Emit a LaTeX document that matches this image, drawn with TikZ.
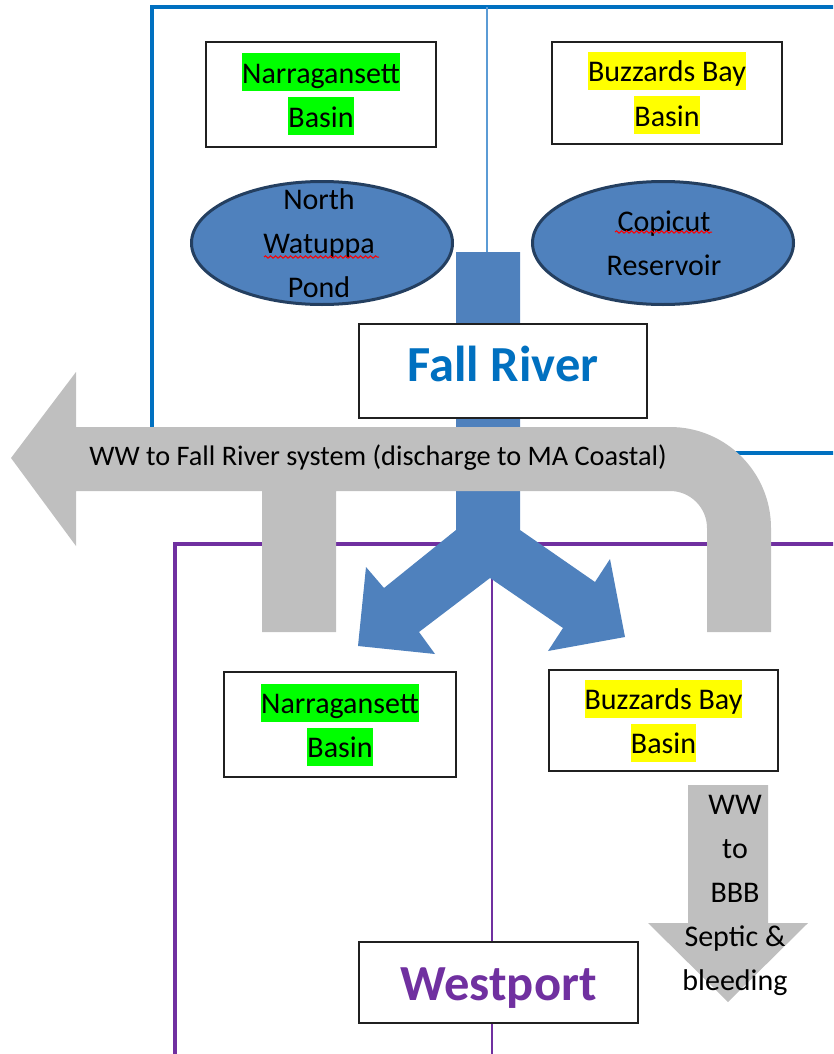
\documentclass[tikz,border=0pt]{standalone}
\usepackage{fontspec}
\setmainfont{Carlito}
\usetikzlibrary{positioning,shapes.geometric,decorations.pathmorphing}

\definecolor{frblue}{HTML}{0070C0}
\definecolor{divblue}{HTML}{5B9BD5}
\definecolor{wpurple}{HTML}{7030A0}
\definecolor{flowblue}{HTML}{4F81BD}
\definecolor{pondline}{HTML}{243F60}
\definecolor{wwgray}{HTML}{BFBFBF}
\definecolor{boxline}{HTML}{202020}
\definecolor{hlgreen}{HTML}{00FF00}
\definecolor{hlyellow}{HTML}{FFFF00}

\newcommand{\lnstrut}{\rule[-8pt]{0pt}{38pt}}
\newcommand{\hlg}[1]{{\setlength{\fboxsep}{0pt}\colorbox{hlgreen}{\lnstrut#1}}}
\newcommand{\hly}[1]{{\setlength{\fboxsep}{0pt}\colorbox{hlyellow}{\lnstrut#1}}}

\begin{document}
\begin{tikzpicture}[
        x=1pt, y=-1pt,
        every node/.style={font=\fontsize{30}{44}\selectfont},
        basin/.style={draw=boxline,line width=1.5pt,fill=white,align=center,inner sep=0pt},
        town/.style={draw=boxline,line width=1.5pt,fill=white,inner sep=0pt,
            font=\fontsize{50.5}{58}\selectfont\bfseries},
        pond/.style={ellipse,draw=pondline,line width=3pt,fill=flowblue,
            minimum width=261pt,minimum height=123pt},
        watershed/.style={line width=4pt},
        divider/.style={line width=1.5pt},
        squiggle/.style={red,line width=1pt,decorate,
            decoration={snake,amplitude=1.2pt,segment length=5pt}}
    ]
    \useasboundingbox (0,0) rectangle (833,1054);
    \clip (0,0) rectangle (833,1054);

%%
% Watershed frames: Fall River above, Westport below
    \draw[watershed,draw=frblue] (152,7) rectangle (900,453);
    \draw[watershed,draw=wpurple] (175,544) rectangle (900,1100);
    \draw[divider,draw=divblue] (487,7) -- (487,252);
    \draw[divider,draw=wpurple] (492,544) -- (492,1054);

%%
% Fall River basins and water supply ponds
    \node (nbtop) [basin,minimum width=230pt,minimum height=105pt] at (321,94.5) {\hlg{Narragansett}\\\hlg{Basin}};
    \node (bbtop) [basin,minimum width=230pt,minimum height=102pt] at (667,93) {\hly{Buzzards Bay}\\\hly{Basin}};
    \node (nwp) [pond] at (322,243) {};
    \node (cop) [pond] at (663,243) {};
    \node (nwptext) [align=center] at (319,242) {\lnstrut North\\\lnstrut Watuppa\\\lnstrut Pond};
    \node (coptext) [align=center] at (664,242.5) {\lnstrut Copicut\\\lnstrut Reservoir};
    \draw[squiggle] (264,257) -- (379,257);
    \draw[squiggle] (615,232) -- (712,232);

%%
% Water supply: Fall River splits into both Westport basins
    \fill[flowblue] (456,252) -- (456,530) -- (384,588) -- (366,567) -- (358,646)
        -- (435,654) -- (419,632) -- (490,578) -- (563,628) -- (548,651)
        -- (625,637) -- (610,559) -- (595,582) -- (520,530) -- (520,252) -- cycle;

%%
% Wastewater back to the Fall River system
    \fill[wwgray] (11,458) -- (76,372) -- (76,427) -- (670,427)
        .. controls (725.8,427) and (771,472.2) .. (771,528)
        -- (771,632) -- (707,632) -- (707,528)
        .. controls (707,507.6) and (690.4,491) .. (670,491)
        -- (336,491) -- (336,632) -- (262,632) -- (262,491) -- (76,491) -- (76,546) -- cycle;
    \node (wwfr) [font=\fontsize{28.3}{34}\selectfont] at (378,458) {WW to Fall River system (discharge to MA Coastal)};
    \node (fallriver) [town,text=frblue,minimum width=288pt,minimum height=94pt,
        text height=35pt,text depth=15pt] at (503,371) {Fall River};

%%
% Westport basins, septic wastewater and town
    \node (nbbot) [basin,minimum width=232pt,minimum height=105pt] at (340,724.5) {\hlg{Narragansett}\\\hlg{Basin}};
    \node (bbbot) [basin,minimum width=229pt,minimum height=101pt] at (663.5,720.5) {\hly{Buzzards Bay}\\\hly{Basin}};
    \fill[wwgray] (688,785) -- (768,785) -- (768,923) -- (808,923) -- (728,1002)
        -- (648,923) -- (688,923) -- cycle;
    \node (wwbbb) [align=center] at (735,891.5) {\lnstrut WW\\\lnstrut to\\\lnstrut BBB\\\lnstrut Septic \&\\\lnstrut bleeding};
    \node (westport) [town,text=wpurple,minimum width=279pt,minimum height=81pt,
        text height=35pt,text depth=0pt] at (498.5,982.5) {Westport};

\end{tikzpicture}
\end{document}
